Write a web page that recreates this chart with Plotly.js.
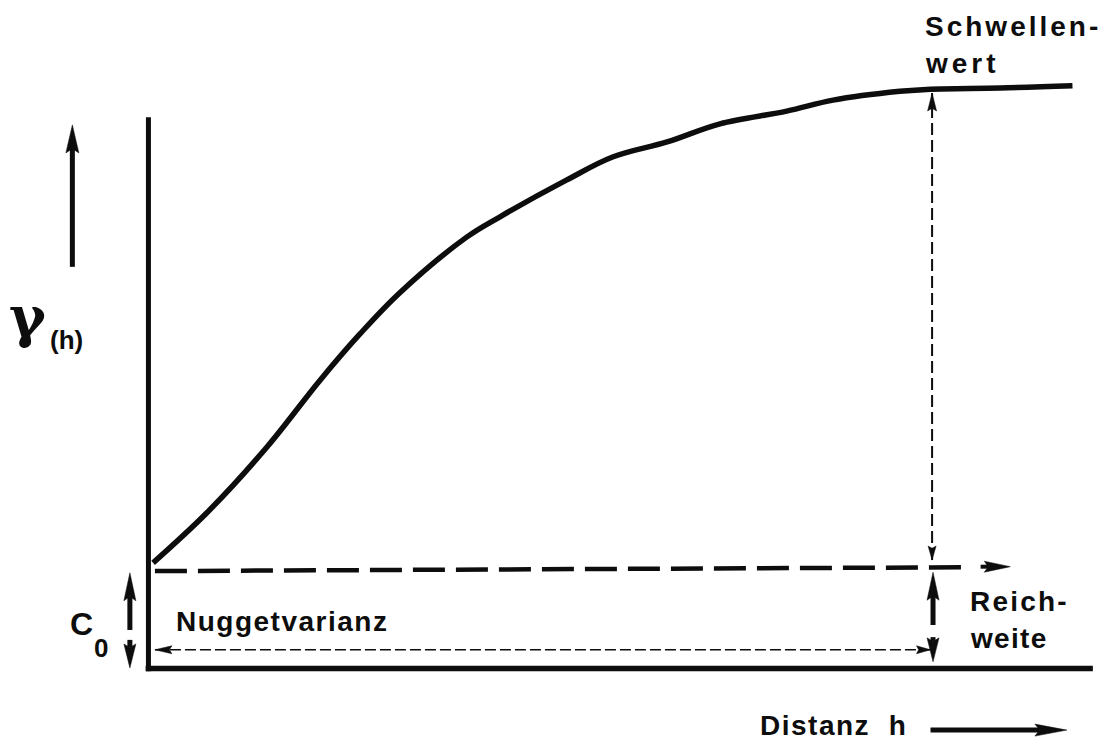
<!DOCTYPE html>
<html>
<head>
<meta charset="utf-8">
<script src="https://cdn.plot.ly/plotly-3.0.1.min.js"></script>
<style>
  html, body { margin: 0; padding: 0; background: #ffffff; }
  #chart { width: 1104px; height: 740px; }
</style>
</head>
<body>
<div id="chart"></div>
<script>
// ---------- data (distance h, semivariance gamma) ----------
const hValues     = [0.05, 0.63, 1.28, 1.85, 2.28, 2.71, 3.43, 3.79, 4.51, 5.01, 5.59, 6.16, 6.88, 7.38, 8.10, 8.43, 9.18, 9.96];
const gammaValues = [1.92, 2.83, 4.03, 5.24, 6.08, 6.83, 7.84, 8.21, 8.88, 9.30, 9.57, 9.90, 10.13, 10.33, 10.49, 10.53, 10.55, 10.59];

const axisH = [0, 10.18];
const axisGamma = [-0.05, 10.02];

const nuggetDashH = [0.07, 8.86];
const nuggetDashGamma = [1.77, 1.84];
const nuggetArrowH = [8.97, 9.29];
const nuggetArrowGamma = [1.85, 1.85];

const rangeLineH = [8.447, 8.447];
const rangeLineGamma = [1.97, 10.46];
const rangeBaseH = [0.07, 8.43];
const rangeBaseGamma = [0.34, 0.34];

const reichH = [8.457, 8.457];
const reichUpGamma = [0.79, 1.75];
const reichDownGamma = [0.57, 0.12];

const c0H = [-0.2, -0.2];
const c0UpGamma = [0.70, 1.74];
const c0DownGamma = [0.52, 0.01];

const gammaArrowH = [-0.82, -0.82];
const gammaArrowGamma = [7.30, 9.88];
const distArrowH = [8.43, 9.90];
const distArrowGamma = [-1.12, -1.12];

const labelTexts = ["Schwellen-", "wert", "Reich-", "weite", "Nuggetvarianz", "Distanz  h"];
const labelH     = [8.349, 8.349, 8.834, 8.834, 0.276, 6.571];
const labelGamma = [11.66, 11.00, 1.21, 0.55, 0.85, -1.03];
const labelSpacing = [3, 4, 2.2, 1.3, 1.5, 1.5];

const gammaSymbol = "γ";
const gammaSub = "(h)";
const c0Letter = "C";
const c0Sub = "0";

// ---------- frame ----------
const X_RANGE = [-1.6, 10.3];
const Y_RANGE = [-1.3, 12.15];
const W = 1104, H = 740;
const SX = W / (X_RANGE[1] - X_RANGE[0]);
const SY = H / (Y_RANGE[1] - Y_RANGE[0]);
const INK = "#0d0d0d";

const traces = [];

function line(xs, ys, width, dash) {
  traces.push({type: "scatter", mode: "lines", x: xs, y: ys, hoverinfo: "skip",
    line: {color: INK, width: width, dash: dash || "solid"}});
}

// arrow from tail (x0,y0) to tip (x1,y1); head sizes in pixels
function arrow(x0, y0, x1, y1, o) {
  const dxp = (x1 - x0) * SX, dyp = (y1 - y0) * SY;
  const L = Math.hypot(dxp, dyp);
  const ux = dxp / L, uy = dyp / L, nx = -uy, ny = ux;
  const hl = o.head, hw = o.hw / 2, nd = o.head * (1 - (o.notch || 0.15));
  const toD = (px, py) => [x1 + px / SX, y1 + py / SY];
  const b1 = toD(-ux * hl + nx * hw, -uy * hl + ny * hw);
  const nt = toD(-ux * nd, -uy * nd);
  const b2 = toD(-ux * hl - nx * hw, -uy * hl - ny * hw);
  if (o.shaft && L > nd) line([x0, nt[0]], [y0, nt[1]], o.w, o.dash);
  traces.push({type: "scatter", mode: "lines", fill: "toself", fillcolor: INK, hoverinfo: "skip",
    x: [x1, b1[0], nt[0], b2[0], x1], y: [y1, b1[1], nt[1], b2[1], y1],
    line: {color: INK, width: 0.5}});
}

// axes
line([axisH[0], axisH[0]], axisGamma, 5);
line([axisH[0] - 0.03, axisH[1]], [0, 0], 5.5);

// nugget level (thick dashed) with arrow
line(nuggetDashH, nuggetDashGamma, 4.5, "32px,11px");
arrow(nuggetArrowH[0], nuggetArrowGamma[0], nuggetArrowH[1], nuggetArrowGamma[1], {head: 26, hw: 11, w: 4, shaft: true});

// vertical thin dashed at the range, heads at both ends
line(rangeLineH, rangeLineGamma, 2, "12px,5px");
arrow(rangeLineH[0], rangeLineGamma[0], rangeLineH[1], rangeLineGamma[1], {head: 18, hw: 9});
arrow(rangeLineH[1], rangeLineGamma[1], rangeLineH[0], rangeLineGamma[0], {head: 14, hw: 8});

// horizontal thin dashed, heads at both ends
line(rangeBaseH, rangeBaseGamma, 1.5, "11px,4px");
arrow(rangeBaseH[1], rangeBaseGamma[1], rangeBaseH[0], rangeBaseGamma[0], {head: 17, hw: 8});
arrow(rangeBaseH[0], rangeBaseGamma[0], rangeBaseH[1], rangeBaseGamma[1], {head: 14, hw: 8});

// thick arrows at the range
arrow(reichH[0], reichUpGamma[0], reichH[1], reichUpGamma[1], {head: 28, hw: 12, w: 5, shaft: true});
arrow(reichH[0], reichDownGamma[0], reichH[1], reichDownGamma[1], {head: 24, hw: 12, w: 5, shaft: true});

// C0 arrows
arrow(c0H[0], c0UpGamma[0], c0H[1], c0UpGamma[1], {head: 28, hw: 12, w: 5, shaft: true});
arrow(c0H[0], c0DownGamma[0], c0H[1], c0DownGamma[1], {head: 24, hw: 12, w: 5, shaft: true});

// direction arrows
arrow(gammaArrowH[0], gammaArrowGamma[0], gammaArrowH[1], gammaArrowGamma[1], {head: 28, hw: 13, w: 5, shaft: true});
arrow(distArrowH[0], distArrowGamma[0], distArrowH[1], distArrowGamma[1], {head: 32, hw: 12, w: 5, shaft: true});

// variogram curve
traces.push({type: "scatter", mode: "lines", x: hValues, y: gammaValues, hoverinfo: "skip",
  line: {color: INK, width: 5.5, shape: "spline", smoothing: 1.0}});

const FONT = "Liberation Sans, Arial, Helvetica, sans-serif";
const annotations = labelTexts.map((t, i) => ({
  x: labelH[i], y: labelGamma[i], xref: "x", yref: "y",
  xanchor: "left", yanchor: "middle", showarrow: false,
  text: '<span style="letter-spacing:' + labelSpacing[i] + 'px">' + t + '</span>',
  font: {family: FONT, size: 28, color: INK, weight: 700}
}));
annotations.push({x: -1.30, y: 6.40, xref: "x", yref: "y", xanchor: "center", yanchor: "middle",
  showarrow: false, text: gammaSymbol, font: {family: "DejaVu Serif, serif", size: 56, color: INK, weight: 700}});
annotations.push({x: -0.88, y: 5.97, xref: "x", yref: "y", xanchor: "center", yanchor: "middle",
  showarrow: false, text: gammaSub, font: {family: FONT, size: 26, color: INK, weight: 700}});
annotations.push({x: -0.72, y: 0.80, xref: "x", yref: "y", xanchor: "center", yanchor: "middle",
  showarrow: false, text: c0Letter, font: {family: FONT, size: 32, color: INK, weight: 700}});
annotations.push({x: -0.51, y: 0.37, xref: "x", yref: "y", xanchor: "center", yanchor: "middle",
  showarrow: false, text: c0Sub, font: {family: FONT, size: 26, color: INK, weight: 700}});

const layout = {
  width: W, height: H,
  margin: {l: 0, r: 0, t: 0, b: 0, pad: 0},
  paper_bgcolor: "#ffffff", plot_bgcolor: "#ffffff",
  showlegend: false,
  xaxis: {range: X_RANGE, visible: false, fixedrange: true},
  yaxis: {range: Y_RANGE, visible: false, fixedrange: true},
  annotations: annotations
};

Plotly.newPlot("chart", traces, layout, {staticPlot: true, displayModeBar: false});
</script>
</body>
</html>
